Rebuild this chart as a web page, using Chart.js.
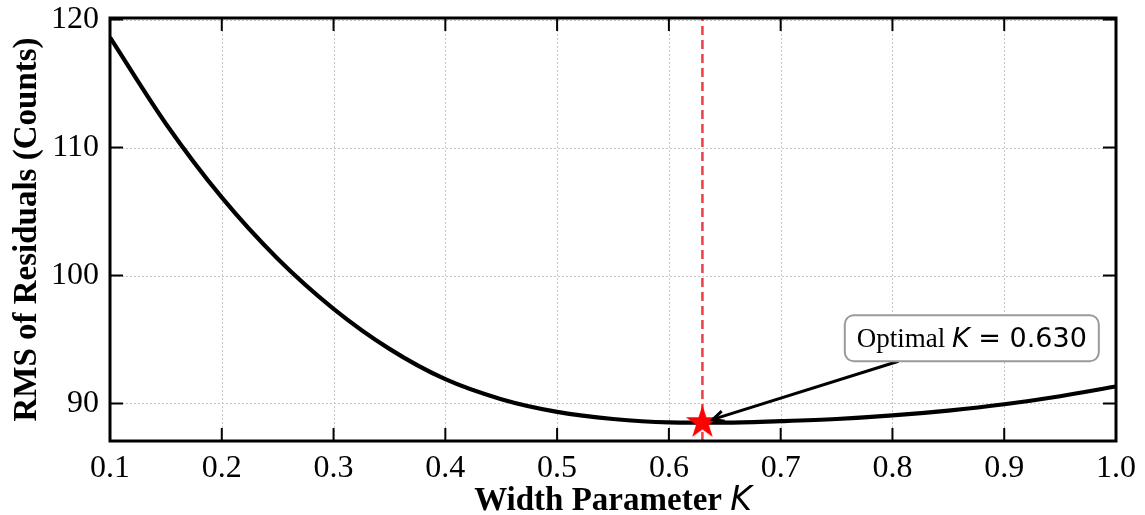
<!DOCTYPE html>
<html>
<head>
<meta charset="utf-8">
<script src="https://cdn.jsdelivr.net/npm/chart.js@4.4.1/dist/chart.umd.min.js"></script>
<style>
  html, body { margin: 0; padding: 0; background: #fff; }
  #wrap { width: 1145px; height: 515px; }
</style>
</head>
<body>
<div id="wrap"><canvas id="rmsChart" width="1145" height="515"></canvas></div>
<script>
// RMS of the fit residuals as a function of the width parameter K
var widthK = [0.10, 0.15, 0.20, 0.25, 0.30, 0.35, 0.40, 0.45, 0.50, 0.55,
              0.60, 0.65, 0.70, 0.75, 0.80, 0.85, 0.90, 0.95, 1.00];
var rmsCounts = [118.6, 111.86, 106.1, 101.31, 97.4, 94.27, 91.9, 90.34, 89.35, 88.79,
                 88.53, 88.5, 88.62, 88.79, 89.07, 89.45, 89.94, 90.57, 91.33];
var optimalK = 0.630;
var optimalRms = 88.5;

var xTicks = [0.1, 0.2, 0.3, 0.4, 0.5, 0.6, 0.7, 0.8, 0.9, 1.0];
var yTicks = [90, 100, 110, 120];
var xRange = [0.1, 1.0];
var yRange = [87.07, 120.12];

var SERIF = '"Liberation Serif", "Times New Roman", serif';
var MATH = '"DejaVu Sans", sans-serif';

// filled five-point star used as the marker for the optimum
function starImage(r, color) {
  var c = document.createElement('canvas');
  c.width = c.height = Math.ceil(r * 2) + 2;
  var g = c.getContext('2d');
  g.translate(c.width / 2, c.height / 2);
  g.beginPath();
  for (var i = 0; i < 10; i++) {
    var rad = i % 2 === 0 ? r : r * 0.382;
    var ang = -Math.PI / 2 + i * Math.PI / 5;
    g.lineTo(rad * Math.cos(ang), rad * Math.sin(ang));
  }
  g.closePath();
  g.fillStyle = color;
  g.fill();
  return c;
}

function seg(ctx, x1, y1, x2, y2) {
  ctx.beginPath();
  ctx.moveTo(x1, y1);
  ctx.lineTo(x2, y2);
  ctx.stroke();
}

var axesDecor = {
  id: 'axesDecor',
  beforeDatasetsDraw: function(chart) {
    var ctx = chart.ctx, a = chart.chartArea, xs = chart.scales.x, ys = chart.scales.y;
    // dotted grid
    ctx.save();
    ctx.strokeStyle = '#c4c4c4';
    ctx.lineWidth = 1;
    ctx.setLineDash([2, 2]);
    xTicks.forEach(function(v) {
      var px = Math.round(xs.getPixelForValue(v)) + 0.5;
      seg(ctx, px, a.top, px, a.bottom);
    });
    yTicks.forEach(function(v) {
      var py = Math.round(ys.getPixelForValue(v)) + 0.5;
      seg(ctx, a.left, py, a.right, py);
    });
    ctx.restore();
  },
  afterDatasetsDraw: function(chart) {
    var ctx = chart.ctx, a = chart.chartArea, xs = chart.scales.x, ys = chart.scales.y;
    ctx.save();
    // inward tick marks on all four sides
    ctx.strokeStyle = '#000';
    ctx.lineWidth = 2;
    var tl = 13;
    xTicks.forEach(function(v) {
      var px = xs.getPixelForValue(v);
      seg(ctx, px, a.bottom, px, a.bottom - tl);
      seg(ctx, px, a.top, px, a.top + tl);
    });
    yTicks.forEach(function(v) {
      var py = ys.getPixelForValue(v);
      seg(ctx, a.left, py, a.left + tl, py);
      seg(ctx, a.right, py, a.right - tl, py);
    });
    // frame
    ctx.lineWidth = 3;
    ctx.strokeRect(a.left, a.top, a.right - a.left, a.bottom - a.top);

    // annotation box and arrow
    var cx = xs.getPixelForValue(0.871), cy = ys.getPixelForValue(95.1);
    var sx = xs.getPixelForValue(optimalK), sy = ys.getPixelForValue(optimalRms);
    var fs = 27;
    var p1 = 'Optimal ', p2 = 'K', p3 = ' = 0.630';
    ctx.font = fs + 'px ' + SERIF;
    var w1 = ctx.measureText(p1).width;
    ctx.font = 'italic ' + fs + 'px ' + MATH;
    var w2 = ctx.measureText(p2).width;
    ctx.font = fs + 'px ' + MATH;
    var w3 = ctx.measureText(p3).width;
    var tw = w1 + w2 + w3;
    var bw = tw + 24, bh = 46;
    var bx = cx - bw / 2, by = cy - bh / 2;

    // arrow from the box edge to the marker
    var dx = sx - cx, dy = sy - cy;
    var t = Math.min((bh / 2) / Math.abs(dy), (bw / 2) / Math.abs(dx));
    var tx0 = cx + dx * t, ty0 = cy + dy * t;
    var len = Math.sqrt(dx * dx + dy * dy);
    var ux = dx / len, uy = dy / len;
    var hx = sx - ux * 11, hy = sy - uy * 11;
    ctx.strokeStyle = '#000';
    ctx.lineWidth = 3;
    ctx.lineCap = 'butt';
    seg(ctx, tx0, ty0, hx, hy);
    var ang = Math.atan2(uy, ux), hl = 12, ha = 0.45;
    ctx.beginPath();
    ctx.moveTo(hx - hl * Math.cos(ang - ha), hy - hl * Math.sin(ang - ha));
    ctx.lineTo(hx, hy);
    ctx.lineTo(hx - hl * Math.cos(ang + ha), hy - hl * Math.sin(ang + ha));
    ctx.stroke();

    ctx.beginPath();
    ctx.roundRect(bx, by, bw, bh, 9);
    ctx.fillStyle = '#fff';
    ctx.fill();
    ctx.strokeStyle = '#9a9a9a';
    ctx.lineWidth = 2;
    ctx.stroke();

    ctx.fillStyle = '#000';
    ctx.textBaseline = 'alphabetic';
    ctx.textAlign = 'left';
    var base = cy + 9;
    var x0 = cx - tw / 2;
    ctx.font = fs + 'px ' + SERIF;
    ctx.fillText(p1, x0, base);
    ctx.font = 'italic ' + fs + 'px ' + MATH;
    ctx.fillText(p2, x0 + w1, base);
    ctx.font = fs + 'px ' + MATH;
    ctx.fillText(p3, x0 + w1 + w2, base);
    ctx.restore();
  },
  afterDraw: function(chart) {
    var ctx = chart.ctx, a = chart.chartArea;
    ctx.save();
    ctx.fillStyle = '#000';
    ctx.textBaseline = 'alphabetic';
    // x axis title: bold serif text with an italic K
    var fs = 33;
    var t1 = 'Width Parameter ', t2 = 'K';
    ctx.font = 'bold ' + fs + 'px ' + SERIF;
    var w1 = ctx.measureText(t1).width;
    ctx.font = 'italic ' + fs + 'px ' + MATH;
    var w2 = ctx.measureText(t2).width;
    var x0 = (a.left + a.right) / 2 - (w1 + w2) / 2;
    ctx.font = 'bold ' + fs + 'px ' + SERIF;
    ctx.textAlign = 'left';
    ctx.fillText(t1, x0, 510);
    ctx.font = 'italic ' + fs + 'px ' + MATH;
    ctx.fillText(t2, x0 + w1, 510);
    // y axis title
    ctx.translate(36, (a.top + a.bottom) / 2);
    ctx.rotate(-Math.PI / 2);
    ctx.textAlign = 'center';
    ctx.font = 'bold ' + fs + 'px ' + SERIF;
    ctx.fillText('RMS of Residuals (Counts)', 0, 0);
    ctx.restore();
  }
};

var curve = widthK.map(function(k, i) { return { x: k, y: rmsCounts[i] }; });
var tickFont = { family: SERIF, size: 32 };

new Chart(document.getElementById('rmsChart').getContext('2d'), {
  type: 'line',
  data: {
    datasets: [
      {
        label: 'Optimum',
        data: [{ x: optimalK, y: optimalRms }],
        showLine: false,
        pointStyle: starImage(17.5, '#ff0000'),
        pointRadius: 18,
        borderWidth: 0
      },
      {
        label: 'Optimal K',
        data: [{ x: optimalK, y: yRange[0] }, { x: optimalK, y: yRange[1] }],
        borderColor: 'rgba(230, 30, 30, 0.85)',
        borderWidth: 2.5,
        borderDash: [9, 5],
        pointRadius: 0,
        fill: false
      },
      {
        label: 'RMS',
        data: curve,
        borderColor: '#000',
        borderWidth: 4.2,
        pointRadius: 0,
        cubicInterpolationMode: 'monotone',
        fill: false
      }
    ]
  },
  options: {
    responsive: false,
    animation: false,
    layout: { padding: { top: 16, right: 29, left: 0, bottom: 0 } },
    plugins: { legend: { display: false }, tooltip: { enabled: false } },
    scales: {
      x: {
        type: 'linear',
        min: xRange[0],
        max: xRange[1],
        grid: { display: false, drawTicks: false },
        border: { display: false },
        afterBuildTicks: function(s) { s.ticks = xTicks.map(function(v) { return { value: v }; }); },
        afterFit: function(s) { s.height = 74; s.paddingLeft = 0; s.paddingRight = 0; },
        ticks: {
          font: tickFont, color: '#000', padding: 8, maxRotation: 0, autoSkip: false,
          callback: function(v) { return Number(v).toFixed(1); }
        }
      },
      y: {
        type: 'linear',
        min: yRange[0],
        max: yRange[1],
        grid: { display: false, drawTicks: false },
        border: { display: false },
        afterBuildTicks: function(s) { s.ticks = yTicks.map(function(v) { return { value: v }; }); },
        afterFit: function(s) { s.width = 110; s.paddingTop = 0; s.paddingBottom = 0; },
        ticks: {
          font: tickFont, color: '#000', padding: 11, autoSkip: false,
          callback: function(v) { return String(v); }
        }
      }
    }
  },
  plugins: [axesDecor]
});
</script>
</body>
</html>
